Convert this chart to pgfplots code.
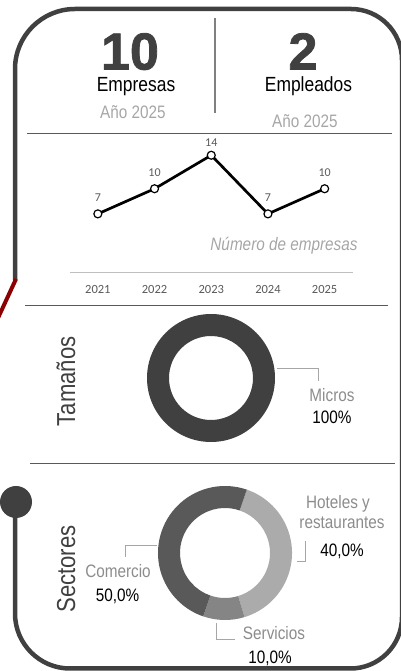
\documentclass[border=0pt]{standalone}
\usepackage{pgfplots}
\pgfplotsset{compat=1.18}
\usepackage{fontspec}
\setmainfont{Liberation Sans}
\newfontfamily\nar[FakeStretch=0.85]{Liberation Sans}
\newfontfamily\blk[FakeBold=1.5]{Liberation Sans}
\newfontfamily\calib{Carlito}
\newcommand\fs[1]{\fontsize{#1}{#1}\selectfont}
\definecolor{dk}{HTML}{404040}
\definecolor{g59}{HTML}{595959}
\definecolor{g80}{HTML}{808080}
\definecolor{g8c}{HTML}{8C8C8C}
\definecolor{gA6}{HTML}{A6A6A6}
\definecolor{gBF}{HTML}{BFBFBF}
\definecolor{red1}{HTML}{8B0000}
\definecolor{com}{HTML}{595959}
\definecolor{hot}{HTML}{ABABAB}
\definecolor{ser}{HTML}{858585}
% donut segment: color, start angle, value (%), outer r, inner r
\newcommand\seg[5]{%
 \fill[#1] ([shift={(#2:#4)}]axis cs:0,0) arc[start angle={#2}, end angle={#2-3.6*#3}, radius=#4]
   -- ([shift={({#2-3.6*#3}:#5)}]axis cs:0,0) arc[start angle={#2-3.6*#3}, end angle={#2}, radius=#5] -- cycle;}
\begin{document}
\begin{tikzpicture}
\useasboundingbox (0pt,0pt) rectangle (400pt,671pt);
\begin{scope}[x=1pt,y=1pt]
% frame
\draw[dk, line width=4.5pt] (15,391) -- (15,602) arc[start angle=180,end angle=90,radius=60]
  -- (351,662) arc[start angle=90,end angle=0,radius=51] -- (402,54)
  arc[start angle=0,end angle=-90,radius=51.5] -- (70,2.5)
  arc[start angle=270,end angle=180,radius=55] -- (15,169);
\draw[red1, line width=4pt] (16,392) -- (-2,353);
\fill[dk] (16,169) circle[radius=16];
% separators
\draw[g59, line width=1pt] (27,{671-134}) -- (392,{671-134});
\draw[g59, line width=1pt] (25,{671-305.5}) -- (388,{671-305.5});
\draw[g59, line width=1pt] (30,{671-464}) -- (395,{671-464});
\draw[g80, line width=1.2pt] (215,{671-18}) -- (215,{671-113});
% header
\node[anchor=base, text=dk, font=\blk\bfseries\fs{52}, inner sep=0] at (130,{671-69.5}) {10};
\node[anchor=base, text=dk, font=\blk\bfseries\fs{52}, inner sep=0] at (303,{671-69.5}) {2};
\node[anchor=base, font=\nar\fs{20.5}, inner sep=0] at (136,{671-92}) {Empresas};
\node[anchor=base, font=\nar\fs{20.5}, inner sep=0] at (308.5,{671-92}) {Empleados};
\node[anchor=base, text=gA6, font=\nar\fs{18}, inner sep=0] at (133,{671-118.3}) {Año 2025};
\node[anchor=base, text=gA6, font=\nar\fs{18}, inner sep=0] at (305,{671-127.7}) {Año 2025};
\node[anchor=base, text=gA6, font=\nar\itshape\fs{18}, inner sep=0] at (284,{671-250.7}) {Número de empresas};
% Tamaños labels
\node[rotate=90, anchor=base, text=dk, font=\nar\fs{26}, inner sep=0] at (75,{671-381.5}) {Tamaños};
\draw[gA6, line width=0.8pt] (277,{671-368}) -- (318,{671-368}) -- (318,{671-381});
\node[anchor=base, text=g8c, font=\nar\fs{18}, inner sep=0] at (332,{671-401.7}) {Micros};
\node[anchor=base, text=black, font=\nar\fs{18}, inner sep=0] at (332,{671-423.3}) {100\%};
% Sectores labels
\node[rotate=90, anchor=base, text=dk, font=\nar\fs{26}, inner sep=0] at (75,{671-569}) {Sectores};
\draw[gA6, line width=0.8pt] (297,{671-561}) -- (305.5,{671-561}) -- (305.5,{671-541});
\draw[gA6, line width=0.8pt] (156.7,{671-545}) -- (125.7,{671-545}) -- (125.7,{671-556.7});
\draw[gA6, line width=0.8pt] (216,{671-623}) -- (216,{671-639.3}) -- (235,{671-639.3});
\node[anchor=base, text=g8c, font=\nar\fs{18}, inner sep=0] at (338,{671-508.3}) {Hoteles y};
\node[anchor=base, text=g8c, font=\nar\fs{18}, inner sep=0] at (342,{671-528.3}) {restaurantes};
\node[anchor=base, text=black, font=\nar\fs{18}, inner sep=0] at (342,{671-556.7}) {40,0\%};
\node[anchor=base, text=g8c, font=\nar\fs{18}, inner sep=0] at (118,{671-578}) {Comercio};
\node[anchor=base, text=black, font=\nar\fs{18}, inner sep=0] at (117.5,{671-601.7}) {50,0\%};
\node[anchor=base, text=g8c, font=\nar\fs{18}, inner sep=0] at (274,{671-640}) {Servicios};
\node[anchor=base, text=black, font=\nar\fs{18}, inner sep=0] at (270,{671-664}) {10,0\%};
\end{scope}
% line chart
\begin{axis}[at={(69.5pt,398.5pt)}, anchor=south west, scale only axis,
  width=283.5pt, height=134pt, xmin=2020.5, xmax=2025.5, ymin=0, ymax=16,
  axis x line*=bottom, axis y line=none,
  x axis line style={gBF, line width=1.2pt, -},
  xtick={2021,2022,2023,2024,2025}, major tick length=0,
  xticklabel style={font=\calib\fs{12.5}, text=g59, anchor=center, yshift=-16.5pt},
  /pgf/number format/1000 sep={}, /pgf/number format/assume math mode=true,
  clip=false,
  visualization depends on={y \as \yv},
  nodes near coords,
  nodes near coords style={font=\calib\fs{12}, text=g59, anchor=center,
    yshift={(\yv>12 ? 12.5 : 16.5)*1pt}}]
\addplot[black, line width=2.7pt, mark=*, mark size=4pt,
  mark options={fill=white, draw=black, line width=1.2pt}]
  coordinates {(2021,7) (2022,10) (2023,14) (2024,7) (2025,10)};
\end{axis}
% Tamaños donut
\begin{axis}[at={(211pt,293pt)}, anchor=center, scale only axis, width=128pt, height=128pt,
  xmin=-1, xmax=1, ymin=-1, ymax=1, hide axis, clip=false]
\addplot[draw=none] coordinates {(0,0)};
\seg{dk}{90}{100}{64pt}{42pt}
\end{axis}
% Sectores donut
\begin{axis}[at={(225pt,118pt)}, anchor=center, scale only axis, width=134pt, height=134pt,
  xmin=-1, xmax=1, ymin=-1, ymax=1, hide axis, clip=false]
\addplot[draw=none] coordinates {(0,0)};
\seg{hot}{71}{40}{67pt}{45pt}
\seg{ser}{71-3.6*40}{10}{67pt}{45pt}
\seg{com}{71-3.6*50}{50}{67pt}{45pt}
\end{axis}
\end{tikzpicture}
\end{document}
